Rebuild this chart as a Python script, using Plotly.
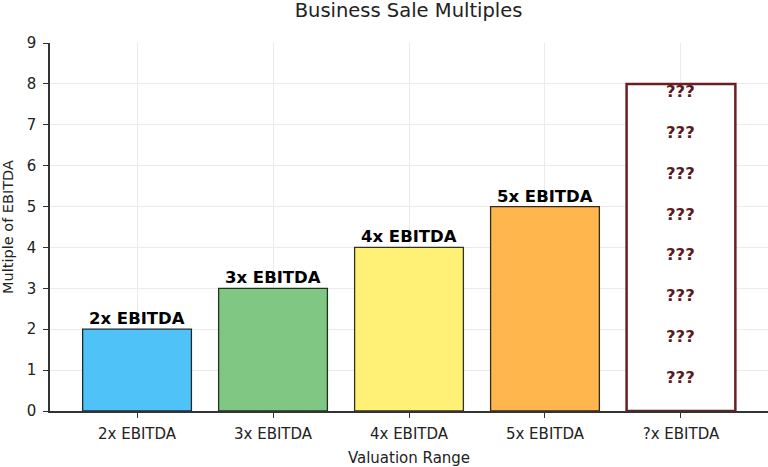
import plotly.graph_objects as go

categories = ["2x EBITDA", "3x EBITDA", "4x EBITDA", "5x EBITDA", "?x EBITDA"]
multiples = [2, 3, 4, 5, 8]
bar_labels = ["2x EBITDA", "3x EBITDA", "4x EBITDA", "5x EBITDA"]
fill_colors = ["#4FC3F7", "#81C784", "#FFF176", "#FFB74D", "#FFFFFF"]
edge_colors = ["#1c2a33", "#1f3320", "#333322", "#33291a", "#6b1f22"]
edge_widths = [1.3, 1.3, 1.3, 1.3, 2.5]
unknown_levels = [1, 2, 3, 4, 5, 6, 7, 8]
unknown_text = "???"
y_ticks = [0, 1, 2, 3, 4, 5, 6, 7, 8, 9]

font = "DejaVu Sans"

fig = go.Figure()
fig.add_trace(go.Bar(
    x=list(range(len(categories))),
    y=multiples,
    width=0.8,
    marker=dict(color=fill_colors, line=dict(color=edge_colors, width=edge_widths)),
    hoverinfo="skip",
))

# value labels above the known bars
for i, lab in enumerate(bar_labels):
    fig.add_annotation(x=i, y=multiples[i], text="<b>" + lab + "</b>", showarrow=False,
                       yanchor="bottom", yshift=-1, font=dict(family=font, size=16.5, color="#000"))

# question marks stacked inside the last bar
for lvl in unknown_levels:
    fig.add_annotation(x=len(categories) - 1, y=lvl, text="<b>" + unknown_text + "</b>", showarrow=False,
                       yanchor="top", yshift=4, font=dict(family=font, size=16.5, color="#5a1a1e"))

fig.update_layout(
    width=768, height=467,
    margin=dict(l=50, r=0, t=43, b=56, autoexpand=False),
    paper_bgcolor="white", plot_bgcolor="white",
    showlegend=False,
    font=dict(family=font, size=15, color="#222"),
    title=dict(text="Business Sale Multiples", x=0.532, xanchor="center", y=0.978, yanchor="middle",
               font=dict(family=font, size=19.5, color="#222"), automargin=False),
    xaxis=dict(
        range=[-0.64, 4.64], tickmode="array", tickvals=list(range(len(categories))), ticktext=categories,
        showline=True, linecolor="#333", linewidth=1.5, ticks="outside", ticklen=5, tickcolor="#333",
        showgrid=True, gridcolor="#ebebeb", gridwidth=1, zeroline=False, automargin=False,
        ticklabelstandoff=3,
        title=dict(text="Valuation Range", standoff=11, font=dict(family=font, size=15)),
        tickfont=dict(family=font, size=15),
    ),
    yaxis=dict(
        range=[0, 9], tickmode="array", tickvals=y_ticks,
        showline=True, linecolor="#333", linewidth=1.5, ticks="outside", ticklen=5, tickcolor="#333",
        showgrid=True, gridcolor="#ebebeb", gridwidth=1, zeroline=False, automargin=False,
        ticklabelstandoff=4,
        title=dict(text="Multiple of EBITDA", standoff=12, font=dict(family=font, size=14.5)),
        tickfont=dict(family=font, size=15),
    ),
)

# drop the default page margin so the figure sits at the window corner
fig.write_html("out.html", config={"displayModeBar": False},
               post_script="document.body.style.margin='0px';")
